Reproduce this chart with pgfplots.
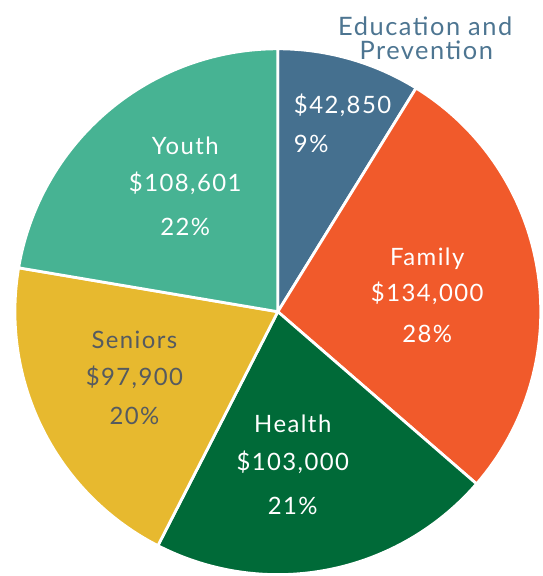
\documentclass[border=0pt]{standalone}
\usepackage{pgfplots}
\pgfplotsset{compat=1.18}
\usepackage{fontspec}
\setmainfont{Lato}[LetterSpace=6]
\definecolor{cBlue}{HTML}{45708F}
\definecolor{cOrange}{HTML}{F15A2B}
\definecolor{cGreen}{HTML}{006A38}
\definecolor{cYellow}{HTML}{E7B92F}
\definecolor{cTeal}{HTML}{47B393}
\definecolor{cTitle}{HTML}{4D7591}
\definecolor{cDark}{HTML}{555A60}
% data (dollars)
\def\vEdu{42850}
\def\vFam{134000}
\def\vHea{103000}
\def\vSen{97900}
\def\vYou{108601}
\edef\vTot{\fpeval{\vEdu+\vFam+\vHea+\vSen+\vYou}}
\edef\aA{90}
\edef\aB{\fpeval{round(\aA-360*\vEdu/\vTot,4)}}
\edef\aC{\fpeval{round(\aB-360*\vFam/\vTot,4)}}
\edef\aD{\fpeval{round(\aC-360*\vHea/\vTot,4)}}
\edef\aE{\fpeval{round(\aD-360*\vSen/\vTot,4)}}
\edef\aF{\fpeval{round(\aE-360*\vYou/\vTot,4)}}
\def\cx{279}
\def\cy{263}
\def\rr{264}
\begin{document}
\begin{tikzpicture}[lbl/.style={font=\fontsize{24}{28}\selectfont, anchor=center, inner sep=0pt}]
\begin{axis}[
  width=545pt, height=576pt, scale only axis,
  xmin=0, xmax=545, ymin=0, ymax=576,
  hide axis, clip=false,
  every axis plot/.append style={draw=white, line width=2.8pt, line join=round, samples=90, variable=\t},
]
\addplot[fill=cBlue, domain=\aB:\aA] ({\cx+\rr*cos(\t)},{\cy+\rr*sin(\t)}) -- (axis cs:\cx,\cy) -- cycle;
\addplot[fill=cOrange, domain=\aC:\aB] ({\cx+\rr*cos(\t)},{\cy+\rr*sin(\t)}) -- (axis cs:\cx,\cy) -- cycle;
\addplot[fill=cGreen, domain=\aD:\aC] ({\cx+\rr*cos(\t)},{\cy+\rr*sin(\t)}) -- (axis cs:\cx,\cy) -- cycle;
\addplot[fill=cYellow, domain=\aE:\aD] ({\cx+\rr*cos(\t)},{\cy+\rr*sin(\t)}) -- (axis cs:\cx,\cy) -- cycle;
\addplot[fill=cTeal, domain=\aF:\aE] ({\cx+\rr*cos(\t)},{\cy+\rr*sin(\t)}) -- (axis cs:\cx,\cy) -- cycle;

\node[lbl, text=cTitle, font=\fontsize{25.5}{30}\selectfont] at (axis cs:427,550) {Education and};
\node[lbl, text=cTitle, font=\fontsize{25.5}{30}\selectfont] at (axis cs:428,525) {Prevention};

\node[lbl, text=white, anchor=west] at (axis cs:295,470) {\$42,850};
\node[lbl, text=white, anchor=west] at (axis cs:295,431) {9\%};

\node[lbl, text=white] at (axis cs:429,316) {Family};
\node[lbl, text=white] at (axis cs:429,281) {\$134,000};
\node[lbl, text=white] at (axis cs:429,241) {28\%};

\node[lbl, text=white] at (axis cs:294,150) {Health};
\node[lbl, text=white] at (axis cs:294,112) {\$103,000};
\node[lbl, text=white] at (axis cs:294,68) {21\%};

\node[lbl, text=cDark] at (axis cs:135,235) {Seniors};
\node[lbl, text=cDark] at (axis cs:135,197) {\$97,900};
\node[lbl, text=cDark] at (axis cs:135,158) {20\%};

\node[lbl, text=white] at (axis cs:186,430) {Youth};
\node[lbl, text=white] at (axis cs:186,392) {\$108,601};
\node[lbl, text=white] at (axis cs:186,348) {22\%};
\end{axis}
\path (current axis.south west) rectangle (current axis.north east);
\end{tikzpicture}
\end{document}
